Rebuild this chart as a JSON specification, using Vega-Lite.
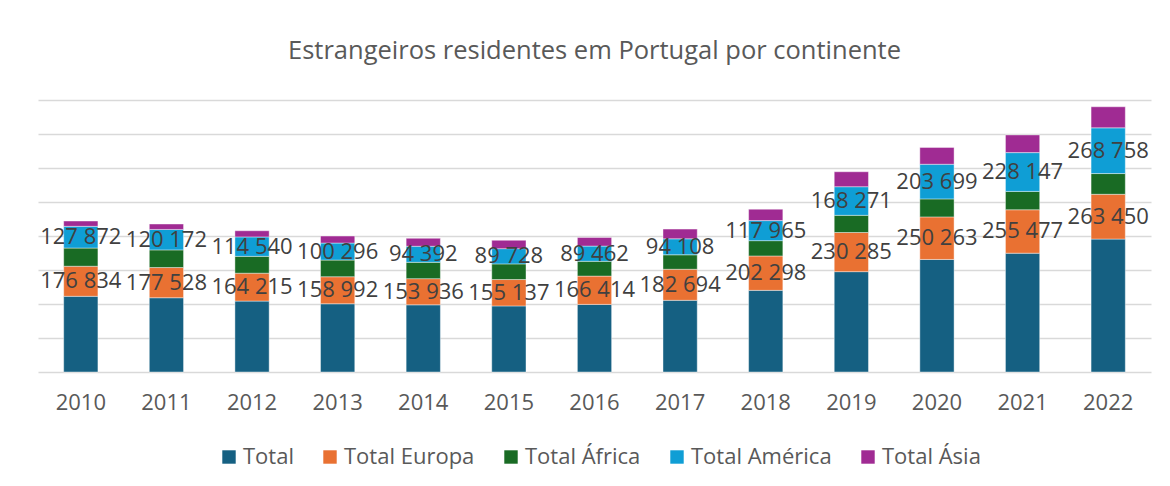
{
  "$schema": "https://vega.github.io/schema/vega-lite/v6.json",
  "width": 1113,
  "height": 272,
  "autosize": {"type": "none"},
  "padding": {"left": 38, "top": 100, "right": 19, "bottom": 114},
  "background": "white",
  "config": {
    "locale": {"number": {"decimal": ",", "thousands": " ", "grouping": [3], "currency": ["", " €"]}},
    "view": {"stroke": null},
    "font": "Open Sans",
    "axisY": {
      "title": null,
      "labels": false,
      "ticks": false,
      "domain": false,
      "grid": true,
      "gridColor": "#d9d9d9",
      "gridWidth": 1.3,
      "tickCount": 12,
      "labelOverlap": false
    },
    "axisX": {
      "title": null,
      "labelAngle": 0,
      "ticks": false,
      "domain": false,
      "grid": false,
      "labelFontSize": 22,
      "labelColor": "#595959",
      "labelFont": "Open Sans",
      "labelPadding": 20
    }
  },
  "title": {
    "text": "Estrangeiros residentes em Portugal por continente",
    "fontSize": 25.5,
    "fontWeight": "normal",
    "color": "#595959",
    "font": "Open Sans",
    "anchor": "middle",
    "frame": "group",
    "offset": 36
  },
  "data": {
    "values": [
      {"year": "2010", "series": "Total", "order": 1, "value": 445262},
      {"year": "2010", "series": "Total Europa", "order": 2, "value": 176834},
      {"year": "2010", "series": "Total África", "order": 3, "value": 107000},
      {"year": "2010", "series": "Total América", "order": 4, "value": 127872},
      {"year": "2010", "series": "Total Ásia", "order": 5, "value": 31000},
      {"year": "2011", "series": "Total", "order": 1, "value": 436822},
      {"year": "2011", "series": "Total Europa", "order": 2, "value": 177528},
      {"year": "2011", "series": "Total África", "order": 3, "value": 104000},
      {"year": "2011", "series": "Total América", "order": 4, "value": 120172},
      {"year": "2011", "series": "Total Ásia", "order": 5, "value": 32000},
      {"year": "2012", "series": "Total", "order": 1, "value": 417042},
      {"year": "2012", "series": "Total Europa", "order": 2, "value": 164215},
      {"year": "2012", "series": "Total África", "order": 3, "value": 99000},
      {"year": "2012", "series": "Total América", "order": 4, "value": 114540},
      {"year": "2012", "series": "Total Ásia", "order": 5, "value": 36000},
      {"year": "2013", "series": "Total", "order": 1, "value": 401320},
      {"year": "2013", "series": "Total Europa", "order": 2, "value": 158992},
      {"year": "2013", "series": "Total África", "order": 3, "value": 98000},
      {"year": "2013", "series": "Total América", "order": 4, "value": 100296},
      {"year": "2013", "series": "Total Ásia", "order": 5, "value": 41000},
      {"year": "2014", "series": "Total", "order": 1, "value": 395195},
      {"year": "2014", "series": "Total Europa", "order": 2, "value": 153936},
      {"year": "2014", "series": "Total África", "order": 3, "value": 96000},
      {"year": "2014", "series": "Total América", "order": 4, "value": 94392},
      {"year": "2014", "series": "Total Ásia", "order": 5, "value": 47000},
      {"year": "2015", "series": "Total", "order": 1, "value": 388731},
      {"year": "2015", "series": "Total Europa", "order": 2, "value": 155137},
      {"year": "2015", "series": "Total África", "order": 3, "value": 92000},
      {"year": "2015", "series": "Total América", "order": 4, "value": 89728},
      {"year": "2015", "series": "Total Ásia", "order": 5, "value": 49000},
      {"year": "2016", "series": "Total", "order": 1, "value": 397731},
      {"year": "2016", "series": "Total Europa", "order": 2, "value": 166414},
      {"year": "2016", "series": "Total África", "order": 3, "value": 87000},
      {"year": "2016", "series": "Total América", "order": 4, "value": 89462},
      {"year": "2016", "series": "Total Ásia", "order": 5, "value": 51000},
      {"year": "2017", "series": "Total", "order": 1, "value": 421711},
      {"year": "2017", "series": "Total Europa", "order": 2, "value": 182694},
      {"year": "2017", "series": "Total África", "order": 3, "value": 85000},
      {"year": "2017", "series": "Total América", "order": 4, "value": 94108},
      {"year": "2017", "series": "Total Ásia", "order": 5, "value": 57000},
      {"year": "2018", "series": "Total", "order": 1, "value": 480300},
      {"year": "2018", "series": "Total Europa", "order": 2, "value": 202298},
      {"year": "2018", "series": "Total África", "order": 3, "value": 90000},
      {"year": "2018", "series": "Total América", "order": 4, "value": 117965},
      {"year": "2018", "series": "Total Ásia", "order": 5, "value": 67000},
      {"year": "2019", "series": "Total", "order": 1, "value": 590348},
      {"year": "2019", "series": "Total Europa", "order": 2, "value": 230285},
      {"year": "2019", "series": "Total África", "order": 3, "value": 101000},
      {"year": "2019", "series": "Total América", "order": 4, "value": 168271},
      {"year": "2019", "series": "Total Ásia", "order": 5, "value": 88000},
      {"year": "2020", "series": "Total", "order": 1, "value": 662095},
      {"year": "2020", "series": "Total Europa", "order": 2, "value": 250263},
      {"year": "2020", "series": "Total África", "order": 3, "value": 106000},
      {"year": "2020", "series": "Total América", "order": 4, "value": 203699},
      {"year": "2020", "series": "Total Ásia", "order": 5, "value": 99000},
      {"year": "2021", "series": "Total", "order": 1, "value": 698887},
      {"year": "2021", "series": "Total Europa", "order": 2, "value": 255477},
      {"year": "2021", "series": "Total África", "order": 3, "value": 108000},
      {"year": "2021", "series": "Total América", "order": 4, "value": 228147},
      {"year": "2021", "series": "Total Ásia", "order": 5, "value": 104000},
      {"year": "2022", "series": "Total", "order": 1, "value": 781915},
      {"year": "2022", "series": "Total Europa", "order": 2, "value": 263450},
      {"year": "2022", "series": "Total África", "order": 3, "value": 122000},
      {"year": "2022", "series": "Total América", "order": 4, "value": 268758},
      {"year": "2022", "series": "Total Ásia", "order": 5, "value": 124000}
    ]
  },
  "transform": [
    {"stack": "value", "groupby": ["year"], "sort": [{"field": "order", "order": "ascending"}], "as": ["v0", "v1"]},
    {"calculate": "(datum.v0 + datum.v1) / 2", "as": "mid"}
  ],
  "encoding": {
    "x": {
      "field": "year",
      "type": "ordinal",
      "scale": {"paddingInner": 0.6, "paddingOuter": 0.3},
      "axis": {"title": null}
    }
  },
  "layer": [
    {
      "mark": {"type": "bar", "stroke": "white", "strokeWidth": 0.6, "strokeOpacity": 0.7},
      "encoding": {
        "y": {
          "field": "v0",
          "type": "quantitative",
          "scale": {"domain": [0, 1600000], "nice": false},
          "axis": {"tickCount": 12, "values": [0, 200000, 400000, 600000, 800000, 1000000, 1200000, 1400000, 1600000]}
        },
        "y2": {"field": "v1"},
        "color": {
          "field": "series",
          "type": "nominal",
          "scale": {
            "domain": ["Total", "Total Europa", "Total África", "Total América", "Total Ásia"],
            "range": ["#156082", "#E97132", "#196B24", "#0F9ED5", "#A02B93"]
          },
          "legend": {
            "orient": "none",
            "legendX": 180,
            "legendY": 346,
            "direction": "horizontal",
            "columns": 5,
            "title": null,
            "symbolType": "square",
            "symbolSize": 180,
            "symbolStrokeWidth": 0,
            "symbolOpacity": 1,
            "labelFontSize": 22,
            "labelColor": "#595959",
            "labelFont": "Open Sans",
            "columnPadding": 25,
            "labelOffset": 3
          }
        }
      }
    },
    {
      "transform": [{"filter": {"field": "series", "oneOf": ["Total Europa", "Total América"]}}],
      "mark": {"type": "text", "fontSize": 22, "color": "#404040", "font": "Open Sans", "baseline": "middle"},
      "encoding": {
        "y": {
          "field": "mid",
          "type": "quantitative",
          "axis": {"tickCount": 12, "values": [0, 200000, 400000, 600000, 800000, 1000000, 1200000, 1400000, 1600000]}
        },
        "text": {"field": "value", "type": "quantitative", "format": ",d"}
      }
    }
  ]
}
